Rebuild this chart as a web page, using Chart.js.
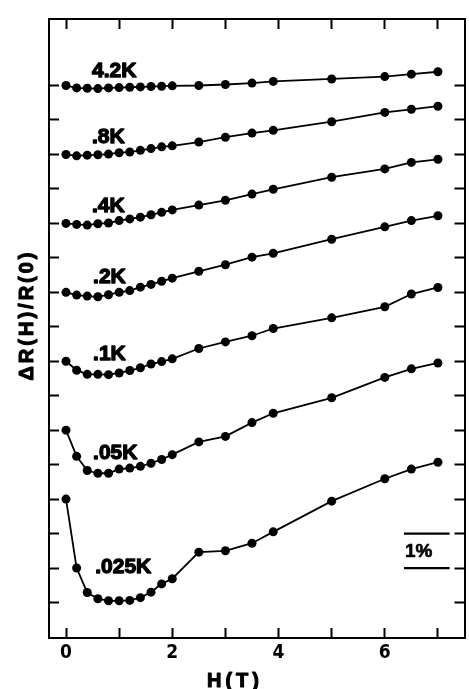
<!DOCTYPE html>
<html>
<head>
<meta charset="utf-8">
<script src="https://cdn.jsdelivr.net/npm/chart.js@4.4.1/dist/chart.umd.min.js"></script>
<style>
  html, body { margin: 0; padding: 0; background: #fff; }
  #wrap { width: 469px; height: 689px; position: relative; }
</style>
</head>
<body>
<div id="wrap"><canvas id="magChart"></canvas></div>
<script>
// field values (T), same for every temperature
const fieldT = [0, 0.2, 0.4, 0.6, 0.8, 1.0, 1.2, 1.4, 1.6, 1.8, 2.0, 2.5, 3.0, 3.5, 3.9, 5, 6, 6.5, 7];

// dR/R in % , each curve shifted by its own offset
const r4200 = [15.00, 14.93, 14.92, 14.91, 14.93, 14.94, 14.95, 14.96, 14.97, 14.98, 14.99, 15.00, 15.03, 15.07, 15.12, 15.19, 15.26, 15.33, 15.40];
const r800  = [13.00, 12.96, 12.98, 12.99, 13.01, 13.05, 13.07, 13.12, 13.17, 13.22, 13.25, 13.36, 13.50, 13.62, 13.70, 13.95, 14.22, 14.31, 14.40];
const r400  = [11.00, 10.97, 10.95, 10.99, 11.01, 11.08, 11.13, 11.18, 11.25, 11.32, 11.39, 11.53, 11.67, 11.85, 11.99, 12.34, 12.58, 12.77, 12.86];
const r200  = [9.00, 8.92, 8.89, 8.87, 8.93, 9.00, 9.05, 9.15, 9.23, 9.32, 9.41, 9.61, 9.80, 10.02, 10.13, 10.54, 10.90, 11.08, 11.22];
const r100  = [7.00, 6.74, 6.62, 6.62, 6.61, 6.66, 6.73, 6.81, 6.92, 6.99, 7.07, 7.37, 7.56, 7.74, 7.95, 8.26, 8.58, 8.95, 9.14];
const r050  = [5.00, 4.24, 3.83, 3.75, 3.75, 3.87, 3.90, 3.95, 4.04, 4.15, 4.29, 4.66, 4.82, 5.22, 5.49, 5.94, 6.53, 6.78, 6.95];
const r025  = [3.00, 1.00, 0.29, 0.11, 0.05, 0.05, 0.06, 0.14, 0.30, 0.54, 0.69, 1.46, 1.50, 1.72, 2.05, 2.94, 3.59, 3.87, 4.07];

const seriesNames = ["4.2K", ".8K", ".4K", ".2K", ".1K", ".05K", ".025K"];
const seriesValues = [r4200, r800, r400, r200, r100, r050, r025];

// 1% scale bar
const barT = [6.36, 7.22];
const barLevels = [2, 1];

const xTickValues = [0, 1, 2, 3, 4, 5, 6, 7];
const xTickLabels = [0, 2, 4, 6];
const yTickValues = [0, 1, 2, 3, 4, 5, 6, 7, 8, 9, 10, 11, 12, 13, 14, 15];

const datasets = seriesValues.map((vals, i) => ({
    label: seriesNames[i],
    data: fieldT.map((t, j) => ({ x: t, y: vals[j] })),
    borderColor: "#000",
    borderWidth: 1.8,
    pointRadius: 4.5,
    pointBackgroundColor: "#000",
    pointBorderWidth: 0,
    tension: 0
}));

barLevels.forEach(lv => {
    datasets.push({
        label: "bar",
        data: barT.map(t => ({ x: t, y: lv })),
        borderColor: "#000",
        borderWidth: 2.2,
        pointRadius: 0,
        tension: 0
    });
});

// heavy text: fill plus a thin stroke
function boldText(ctx, str, x, y, w) {
    ctx.lineWidth = w;
    ctx.strokeText(str, x, y);
    ctx.fillText(str, x, y);
}

// text on the plot: curve names, 1% and axis titles
const labelPlugin = {
    id: "labels",
    afterDatasetsDraw(chart) {
        const ctx = chart.ctx;
        const xs = chart.scales.x;
        const ys = chart.scales.y;
        const spots = [[0.49, 15.42], [0.49, 13.50], [0.49, 11.49], [0.51, 9.44], [0.51, 7.21], [0.51, 4.32], [0.55, 1.03]];

        ctx.save();
        ctx.fillStyle = "#000";
        ctx.strokeStyle = "#000";
        ctx.lineJoin = "round";
        ctx.textBaseline = "middle";
        ctx.textAlign = "left";
        ctx.font = "bold 21px 'Liberation Sans', Arial, sans-serif";
        seriesNames.forEach((name, i) => {
            boldText(ctx, name, xs.getPixelForValue(spots[i][0]), ys.getPixelForValue(spots[i][1]), 1.3);
        });

        ctx.font = "bold 19px 'Liberation Sans', Arial, sans-serif";
        boldText(ctx, "1%", xs.getPixelForValue(6.38), ys.getPixelForValue(1.47), 0.6);

        ctx.textAlign = "center";
        ctx.font = "bold 20px 'Liberation Sans', Arial, sans-serif";
        ctx.letterSpacing = "4px";
        boldText(ctx, "H(T)", 235, 681, 1.1);

        ctx.translate(27, 315);
        ctx.rotate(-Math.PI / 2);
        ctx.letterSpacing = "3px";
        boldText(ctx, "ΔR(H)/R(0)", 0, 0, 1.1);
        ctx.restore();
    }
};

const frameAxis = (extra) => Object.assign({
    type: "linear",
    border: { display: true, color: "#000", width: 2 },
    grid: { drawOnChartArea: false, drawTicks: true, tickLength: -10, tickWidth: 2, tickColor: "#000" }
}, extra);

new Chart(document.getElementById("magChart").getContext("2d"), {
    type: "line",
    data: { datasets },
    options: {
        responsive: true,
        maintainAspectRatio: false,
        animation: false,
        layout: { padding: 0 },
        plugins: { legend: { display: false }, tooltip: { enabled: false } },
        scales: {
            x: frameAxis({
                position: "bottom",
                min: -0.32,
                max: 7.5,
                afterBuildTicks: s => { s.ticks = xTickValues.map(v => ({ value: v })); },
                afterFit: s => { s.height = 51; },
                ticks: {
                    padding: 14,
                    color: "#000",
                    font: { family: "'Liberation Sans Narrow', 'DejaVu Sans Condensed', sans-serif", size: 19, weight: "bold" },
                    callback: v => xTickLabels.includes(v) ? String(v) : ""
                }
            }),
            x2: frameAxis({
                position: "top",
                min: -0.32,
                max: 7.5,
                afterBuildTicks: s => { s.ticks = xTickValues.map(v => ({ value: v })); },
                afterFit: s => { s.height = 19; },
                ticks: { display: false }
            }),
            y: frameAxis({
                position: "left",
                min: -1.03,
                max: 16.93,
                afterBuildTicks: s => { s.ticks = yTickValues.map(v => ({ value: v })); },
                afterFit: s => { s.width = 49; },
                ticks: { display: false }
            }),
            y2: frameAxis({
                position: "right",
                min: -1.03,
                max: 16.93,
                afterBuildTicks: s => { s.ticks = yTickValues.map(v => ({ value: v })); },
                afterFit: s => { s.width = 1; },
                ticks: { display: false }
            })
        }
    },
    plugins: [labelPlugin]
});
</script>
</body>
</html>
